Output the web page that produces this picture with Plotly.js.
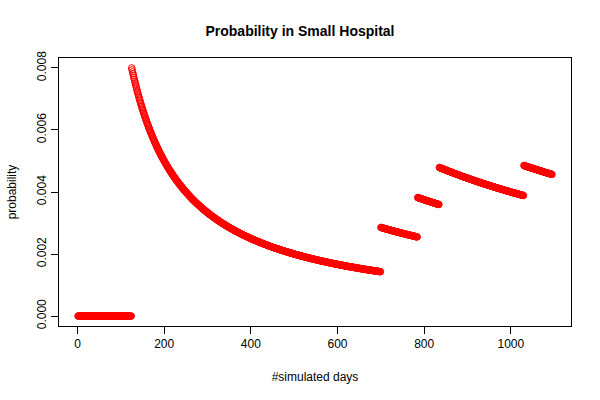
<!DOCTYPE html>
<html>
<head>
<meta charset="utf-8">
<script src="https://cdn.plot.ly/plotly-3.0.1.min.js"></script>
<style>html,body{margin:0;padding:0;background:#fff;}#chart{width:600px;height:400px;}</style>
</head>
<body>
<div id="chart"></div>
<script>
// Simulated days and the days on which an event occurred (read from the jumps in the chart)
var nDays = 1095;
var eventDays = [125, 700, 785, 835, 1030];
var xTicks = [0, 200, 400, 600, 800, 1000];
var yTicks = [0, 0.002, 0.004, 0.006, 0.008];
var yTickLabels = ["0.000", "0.002", "0.004", "0.006", "0.008"];

// Running probability = events observed so far / days simulated
var days = [];
var prob = [];
var count = 0;
for (var d = 1; d <= nDays; d++) {
  if (eventDays.indexOf(d) >= 0) count++;
  days.push(d);
  prob.push(count / d);
}

var trace = {
  x: days, y: prob, type: 'scatter', mode: 'markers',
  marker: {symbol: 'circle-open', size: 6.5, color: '#ff0000', line: {width: 1, color: '#ff0000'}},
  hoverinfo: 'none'
};

var font = {family: 'Liberation Sans, Arial, Helvetica, sans-serif', size: 12, color: '#000'};
var layout = {
  width: 600, height: 400,
  margin: {l: 59, r: 29, t: 58, b: 74},
  paper_bgcolor: '#fff', plot_bgcolor: '#fff',
  showlegend: false,
  font: font,
  title: {text: '<b>Probability in Small Hospital</b>', font: {family: font.family, size: 14, color: '#000'}, x: 0.5, xanchor: 'center', y: 0.922, yanchor: 'middle'},
  xaxis: {
    range: [-42.76, 1138.76], tickvals: xTicks, ticks: 'outside', ticklen: 7, tickcolor: '#000', tickwidth: 1,
    showline: true, linecolor: '#000', linewidth: 1, mirror: true, showgrid: false, zeroline: false,
    tickfont: font,
    title: {text: '#simulated days', font: font, standoff: 22}
  },
  yaxis: {
    range: [-0.00032, 0.00832], tickvals: yTicks, ticktext: yTickLabels, ticks: 'outside', ticklen: 7, tickcolor: '#000', tickwidth: 1,
    showline: true, linecolor: '#000', linewidth: 1, mirror: true, showgrid: false, zeroline: false,
    tickangle: -90, tickfont: font,
    title: {text: 'probability', font: font, standoff: 16}
  }
};

Plotly.newPlot('chart', [trace], layout, {staticPlot: true, displayModeBar: false});
</script>
</body>
</html>
